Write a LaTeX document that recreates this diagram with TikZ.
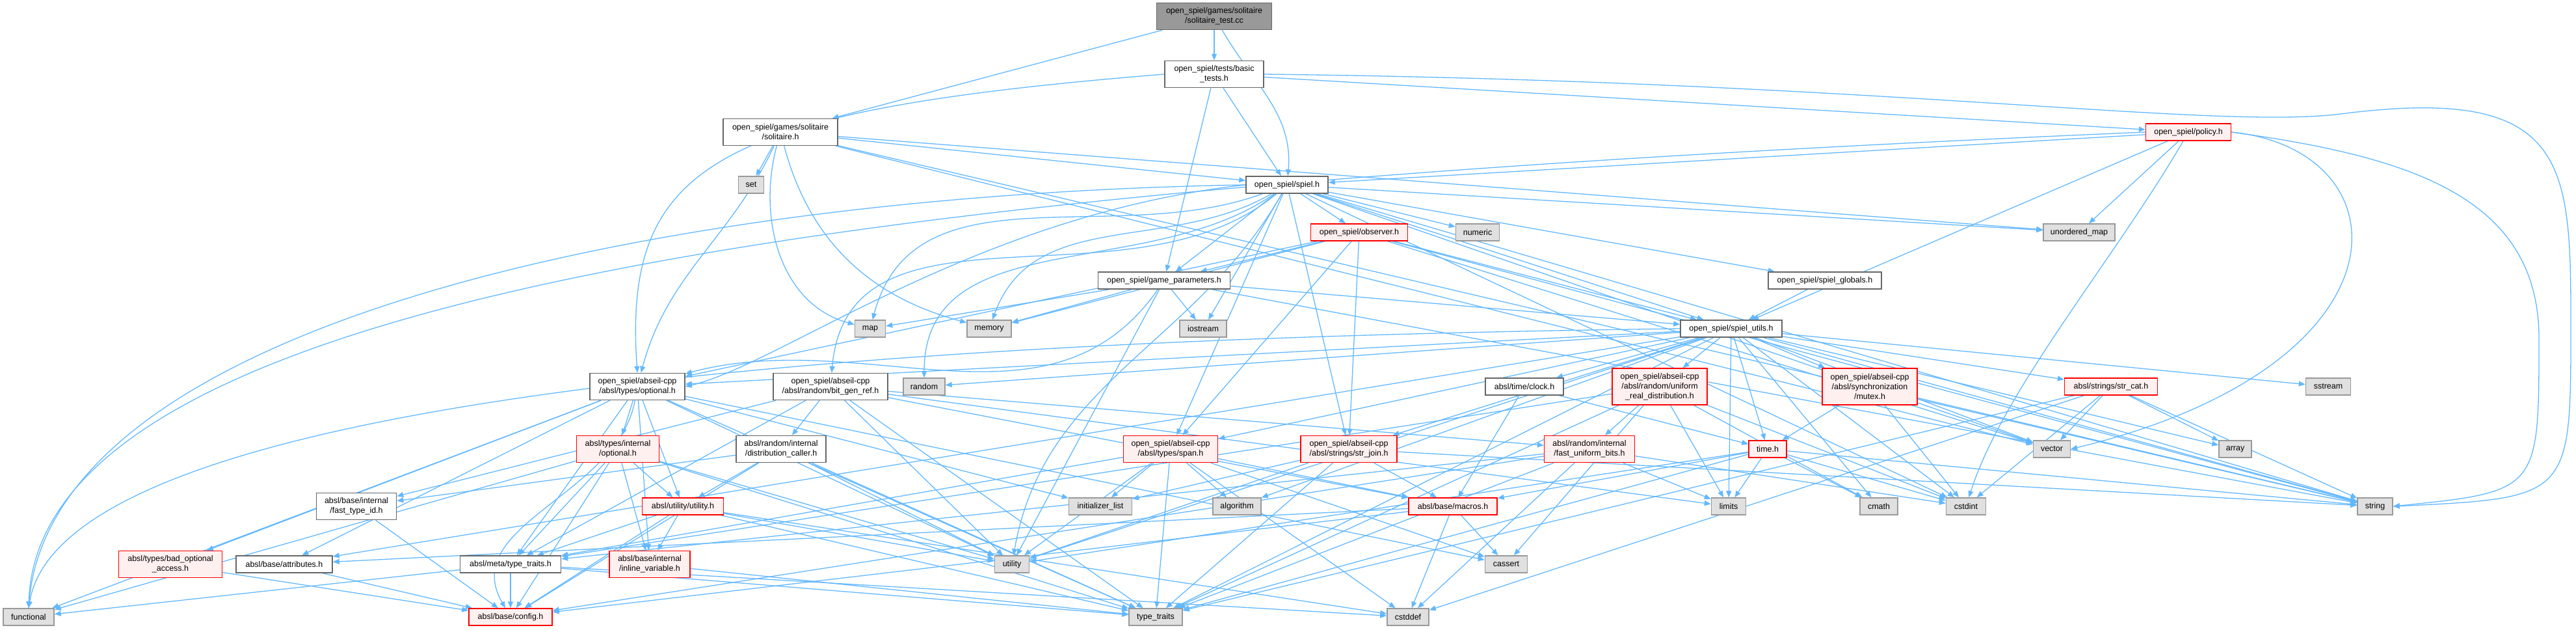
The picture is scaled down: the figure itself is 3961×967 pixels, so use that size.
\documentclass[tikz,border=0pt]{standalone}
\usepackage{fontspec}
\setmainfont{Liberation Sans}
\usetikzlibrary{arrows.meta, positioning}

\definecolor{edgeblue}{HTML}{63B8FF}
\definecolor{sysfill}{HTML}{E0E0E0}
\definecolor{sysborder}{HTML}{999999}
\definecolor{fileborder}{HTML}{666666}
\definecolor{truncfill}{HTML}{FFF0F0}
\definecolor{rootgray}{HTML}{999999}

\pgfdeclarelayer{edges}
\pgfsetlayers{edges,main}

\begin{document}
\begin{tikzpicture}[
    x=1pt, y=-1pt,
    every node/.style={rectangle, line width=1.5, align=center, inner sep=1, font=\fontsize{12.5}{15}\selectfont},
    rootfile/.style={draw=fileborder, fill=rootgray},
    file/.style={draw=fileborder, fill=white},
    trunc/.style={draw=red, fill=truncfill},
    sys/.style={draw=sysborder, fill=sysfill},
    dep/.style={draw=edgeblue, line width=1.3, -{Triangle[length=10pt,width=8pt]}}
  ]
  \useasboundingbox (0,0) rectangle (3961,967);

  % files of the project
  \node[rootfile, minimum width=177, minimum height=41] (test) at (1867,25) {open\_spiel/games/solitaire\\/solitaire\_test.cc};
  \node[file, minimum width=152, minimum height=41] (basic) at (1867,114) {open\_spiel/tests/basic\\\_tests.h};
  \node[file, minimum width=176, minimum height=41] (solh) at (1200,203) {open\_spiel/games/solitaire\\/solitaire.h};
  \node[trunc, minimum width=131, minimum height=26] (policy) at (3365,203) {open\_spiel/policy.h};
  \node[sys, minimum width=39, minimum height=26] (set) at (1155,284) {set};
  \node[file, minimum width=126, minimum height=26] (spiel) at (1979,284) {open\_spiel/spiel.h};
  \node[trunc, minimum width=149, minimum height=26] (observer) at (2090,357) {open\_spiel/observer.h};
  \node[sys, minimum width=67, minimum height=26] (numeric) at (2272,357) {numeric};
  \node[sys, minimum width=110, minimum height=26] (umap) at (3197,357) {unordered\_map};
  \node[file, minimum width=203, minimum height=26] (gparams) at (1790,431) {open\_spiel/game\_parameters.h};
  \node[file, minimum width=174, minimum height=26] (globals) at (2806,431) {open\_spiel/spiel\_globals.h};
  \node[file, minimum width=156, minimum height=26] (utils) at (2662,505) {open\_spiel/spiel\_utils.h};
  \node[sys, minimum width=47, minimum height=26] (map) at (1338,505) {map};
  \node[sys, minimum width=68, minimum height=26] (memory) at (1521,505) {memory};
  \node[sys, minimum width=72, minimum height=26] (iostream) at (1850,505) {iostream};

  % abseil and std headers
  \node[file, minimum width=146, minimum height=41] (optional) at (980,594) {open\_spiel/abseil-cpp\\/absl/types/optional.h};
  \node[file, minimum width=176, minimum height=41] (bitgen) at (1277,594) {open\_spiel/abseil-cpp\\/absl/random/bit\_gen\_ref.h};
  \node[sys, minimum width=64, minimum height=26] (random) at (1421,594) {random};
  \node[file, minimum width=120, minimum height=26] (clock) at (2344,594) {absl/time/clock.h};
  \node[trunc, minimum width=146, minimum height=56] (uniform) at (2552,594) {open\_spiel/abseil-cpp\\/absl/random/uniform\\\_real\_distribution.h};
  \node[trunc, minimum width=146, minimum height=56] (mutex) at (2875,594) {open\_spiel/abseil-cpp\\/absl/synchronization\\/mutex.h};
  \node[trunc, minimum width=143, minimum height=26] (strcat) at (3246,594) {absl/strings/str\_cat.h};
  \node[sys, minimum width=69, minimum height=26] (sstream) at (3580,594) {sstream};
  \node[trunc, minimum width=127, minimum height=41] (intopt) at (950,690) {absl/types/internal\\/optional.h};
  \node[file, minimum width=138, minimum height=41] (distcaller) at (1201,690) {absl/random/internal\\/distribution\_caller.h};
  \node[trunc, minimum width=145, minimum height=41] (span) at (1800,690) {open\_spiel/abseil-cpp\\/absl/types/span.h};
  \node[trunc, minimum width=148, minimum height=41] (strjoin) at (2074,690) {open\_spiel/abseil-cpp\\/absl/strings/str\_join.h};
  \node[trunc, minimum width=139, minimum height=41] (fastbits) at (2444,690) {absl/random/internal\\/fast\_uniform\_bits.h};
  \node[trunc, minimum width=58, minimum height=26] (timeh) at (2718,690) {time.h};
  \node[sys, minimum width=57, minimum height=26] (vector) at (3155,690) {vector};
  \node[sys, minimum width=50, minimum height=26] (array) at (3437,690) {array};
  \node[file, minimum width=123, minimum height=41] (fasttype) at (548,778) {absl/base/internal\\/fast\_type\_id.h};
  \node[trunc, minimum width=125, minimum height=26] (utilityh) at (1050,778) {absl/utility/utility.h};
  \node[sys, minimum width=97, minimum height=26] (initlist) at (1692,778) {initializer\_list};
  \node[sys, minimum width=74, minimum height=26] (algorithm) at (1902,778) {algorithm};
  \node[trunc, minimum width=136, minimum height=26] (macros) at (2234,778) {absl/base/macros.h};
  \node[sys, minimum width=53, minimum height=26] (limits) at (2658,778) {limits};
  \node[sys, minimum width=58, minimum height=26] (cmath) at (2889,778) {cmath};
  \node[sys, minimum width=61, minimum height=26] (cstdint) at (3023,778) {cstdint};
  \node[sys, minimum width=54, minimum height=26] (string) at (3652,778) {string};
  \node[trunc, minimum width=159, minimum height=41] (badopt) at (262,867) {absl/types/bad\_optional\\\_access.h};
  \node[file, minimum width=148, minimum height=26] (attributes) at (437,867) {absl/base/attributes.h};
  \node[file, minimum width=155, minimum height=26] (metatt) at (785,867) {absl/meta/type\_traits.h};
  \node[trunc, minimum width=124, minimum height=41] (inlinevar) at (999,867) {absl/base/internal\\/inline\_variable.h};
  \node[sys, minimum width=53, minimum height=26] (utility) at (1556,867) {utility};
  \node[sys, minimum width=65, minimum height=26] (cassert) at (2316,867) {cassert};
  \node[sys, minimum width=78, minimum height=26] (functional) at (44,948) {functional};
  \node[trunc, minimum width=128, minimum height=26] (config) at (785,948) {absl/base/config.h};
  \node[sys, minimum width=82, minimum height=26] (typetraits) at (1777,948) {type\_traits};
  \node[sys, minimum width=64, minimum height=26] (cstddef) at (2165,948) {cstddef};

  \begin{pgfonlayer}{edges}
    % solitaire_test.cc
    \draw[dep] (test) -- (solh);
    \draw[dep] (test) -- (basic);
    \draw[dep] (test) to[out=-60,in=85] (spiel);
    % basic_tests.h
    \draw[dep] (basic) -- (spiel);
    \draw[dep] (basic) -- (gparams);
    \draw[dep] (basic) -- (policy);
    \draw[dep] (basic.west) .. controls (1100,170) and (958,250) .. (optional.north);
    \draw[dep] (basic.east) .. controls (2900,125) and (3400,200) .. (3600,175) .. controls (3950,130) and (3953,250) .. (3953,500) .. controls (3953,765) .. (string.east);
    % solitaire.h
    \draw[dep] (solh) -- (set);
    \draw[dep] (solh) -- (spiel);
    \draw[dep] (solh) to[out=245,in=75] (optional);
    \draw[dep] (solh) to[out=255,in=165] (map);
    \draw[dep] (solh) to[out=285,in=165] (memory);
    \draw[dep] (solh) -- (umap);
    \draw[dep] (solh) -- (vector);
    \draw[dep] (solh) -- (string);
    % policy.h
    \draw[dep] (policy) -- (spiel);
    \draw[dep] (policy.west) .. controls (1500,280) and (60,420) .. (functional.north);
    \draw[dep] (policy) -- (utils);
    \draw[dep] (policy) -- (umap);
    \draw[dep] (policy) .. controls (3250,400) and (3080,600) .. (cstdint);
    \draw[dep] (policy.east) .. controls (3700,230) and (3720,560) .. (vector.east);
    \draw[dep] (policy.east) .. controls (3700,240) and (3904,300) .. (3904,520) .. controls (3904,755) .. (string.east);
    % spiel.h
    \draw[dep] (spiel) -- (observer);
    \draw[dep] (spiel) -- (numeric);
    \draw[dep] (spiel) -- (gparams);
    \draw[dep] (spiel) -- (globals);
    \draw[dep] (spiel) -- (utils);
    \draw[dep] (spiel) -- (umap);
    \draw[dep] (spiel) to[out=200,in=75] (map);
    \draw[dep] (spiel) to[out=210,in=70] (memory);
    \draw[dep] (spiel) -- (iostream);
    \draw[dep] (spiel) to[out=215,in=90] (random);
    \draw[dep] (spiel.west) .. controls (1500,330) and (1200,560) .. (optional.east);
    \draw[dep] (spiel) to[out=220,in=85] (bitgen);
    \draw[dep] (spiel) -- (span);
    \draw[dep] (spiel) -- (strjoin);
    \draw[dep] (spiel) -- (vector);
    \draw[dep] (spiel) -- (string);
    \draw[dep] (spiel) -- (cstdint);
    \draw[dep] (spiel) to[out=240,in=80] (utility);
    \draw[dep] (spiel.west) .. controls (1000,300) and (80,500) .. (functional.north);
    % observer.h
    \draw[dep] (observer) -- (gparams);
    \draw[dep] (observer) -- (memory);
    \draw[dep] (observer) -- (utils);
    \draw[dep] (observer) -- (strjoin);
    \draw[dep] (observer) -- (span);
    \draw[dep] (observer) -- (optional);
    \draw[dep] (observer) -- (vector);
    \draw[dep] (observer) -- (string);
    % game_parameters.h
    \draw[dep] (gparams) -- (map);
    \draw[dep] (gparams) -- (memory);
    \draw[dep] (gparams) -- (iostream);
    \draw[dep] (gparams) -- (utils);
    \draw[dep] (gparams) to[out=235,in=15] (optional);
    \draw[dep] (gparams) -- (utility);
    \draw[dep] (gparams) -- (string);
    % spiel_globals.h
    \draw[dep] (globals) -- (utils);
    % spiel_utils.h
    \draw[dep] (utils) -- (optional);
    \draw[dep] (utils) -- (random);
    \draw[dep] (utils) -- (attributes);
    \draw[dep] (utils.west) .. controls (1400,520) and (100,600) .. (functional.north);
    \draw[dep] (utils) -- (span);
    \draw[dep] (utils) -- (strjoin);
    \draw[dep] (utils) -- (clock);
    \draw[dep] (utils) -- (uniform);
    \draw[dep] (utils) -- (mutex);
    \draw[dep] (utils) -- (strcat);
    \draw[dep] (utils) -- (timeh);
    \draw[dep] (utils) -- (limits);
    \draw[dep] (utils) -- (cmath);
    \draw[dep] (utils) -- (cstdint);
    \draw[dep] (utils) -- (vector);
    \draw[dep] (utils) -- (array);
    \draw[dep] (utils) -- (string);
    \draw[dep] (utils) -- (sstream);
    \draw[dep] (utils) -- (utility);
    \draw[dep] (utils) -- (typetraits);
    \draw[dep] (utils) -- (algorithm);
    % absl/types/optional.h
    \draw[dep] (optional) -- (functional);
    \draw[dep] (optional) -- (badopt);
    \draw[dep] (optional) -- (attributes);
    \draw[dep] (optional) -- (metatt);
    \draw[dep] (optional) -- (inlinevar);
    \draw[dep] (optional) to[out=260,in=120] (config);
    \draw[dep] (optional) -- (utilityh);
    \draw[dep] (optional) -- (intopt);
    \draw[dep] (optional) -- (initlist);
    \draw[dep] (optional) -- (typetraits);
    \draw[dep] (optional) -- (utility);
    \draw[dep] (optional) -- (cassert);
    % absl/types/internal/optional.h
    \draw[dep] (intopt) -- (functional);
    \draw[dep] (intopt) -- (metatt);
    \draw[dep] (intopt) -- (inlinevar);
    \draw[dep] (intopt) -- (utilityh);
    \draw[dep] (intopt) -- (typetraits);
    \draw[dep] (intopt) -- (utility);
    \draw[dep] (intopt) -- (config);
    % bit_gen_ref.h
    \draw[dep] (bitgen) -- (distcaller);
    \draw[dep] (bitgen) -- (fasttype);
    \draw[dep] (bitgen) -- (fastbits);
    \draw[dep] (bitgen) -- (macros);
    \draw[dep] (bitgen) -- (metatt);
    \draw[dep] (bitgen) -- (limits);
    \draw[dep] (bitgen) -- (typetraits);
    \draw[dep] (bitgen) -- (utility);
    % distribution_caller.h
    \draw[dep] (distcaller) -- (utilityh);
    \draw[dep] (distcaller) -- (fasttype);
    \draw[dep] (distcaller) -- (config);
    \draw[dep] (distcaller) -- (typetraits);
    \draw[dep] (distcaller) -- (utility);
    % span.h
    \draw[dep] (span) -- (algorithm);
    \draw[dep] (span) -- (initlist);
    \draw[dep] (span) -- (utility);
    \draw[dep] (span) -- (typetraits);
    \draw[dep] (span) -- (cassert);
    \draw[dep] (span) -- (cstddef);
    \draw[dep] (span) -- (macros);
    \draw[dep] (span) -- (metatt);
    % str_join.h
    \draw[dep] (strjoin) -- (macros);
    \draw[dep] (strjoin) -- (initlist);
    \draw[dep] (strjoin) -- (string);
    \draw[dep] (strjoin) -- (utility);
    \draw[dep] (strjoin) -- (typetraits);
    % fast_uniform_bits.h
    \draw[dep] (fastbits) -- (limits);
    \draw[dep] (fastbits) -- (cstdint);
    \draw[dep] (fastbits) -- (cstddef);
    \draw[dep] (fastbits) -- (typetraits);
    \draw[dep] (fastbits) -- (config);
    \draw[dep] (fastbits) -- (metatt);
    % uniform_real_distribution.h
    \draw[dep] (uniform) -- (fastbits);
    \draw[dep] (uniform) -- (limits);
    \draw[dep] (uniform) -- (cmath);
    \draw[dep] (uniform) -- (cstdint);
    \draw[dep] (uniform) -- (typetraits);
    \draw[dep] (uniform) -- (metatt);
    \draw[dep] (uniform) -- (cassert);
    % mutex.h
    \draw[dep] (mutex) -- (timeh);
    \draw[dep] (mutex) -- (cstdint);
    \draw[dep] (mutex) -- (string);
    % clock.h and time.h
    \draw[dep] (clock) -- (macros);
    \draw[dep] (clock) -- (timeh);
    \draw[dep] (timeh) -- (macros);
    \draw[dep] (timeh) -- (limits);
    \draw[dep] (timeh) -- (cmath);
    \draw[dep] (timeh) -- (cstdint);
    \draw[dep] (timeh) -- (string);
    \draw[dep] (timeh) -- (typetraits);
    \draw[dep] (timeh) -- (utility);
    % str_cat.h
    \draw[dep] (strcat) -- (array);
    \draw[dep] (strcat) -- (cstdint);
    \draw[dep] (strcat) -- (string);
    \draw[dep] (strcat) -- (vector);
    \draw[dep] (strcat) -- (typetraits);
    \draw[dep] (strcat) -- (cstddef);
    % macros.h
    \draw[dep] (macros) -- (cassert);
    \draw[dep] (macros) -- (cstddef);
    \draw[dep] (macros) -- (attributes);
    \draw[dep] (macros) -- (config);
    % utility.h
    \draw[dep] (utilityh) -- (inlinevar);
    \draw[dep] (utilityh) -- (metatt);
    \draw[dep] (utilityh) -- (utility);
    \draw[dep] (utilityh) -- (typetraits);
    \draw[dep] (utilityh) -- (cstddef);
    \draw[dep] (utilityh) -- (config);
    % the small base headers
    \draw[dep] (inlinevar) -- (typetraits);
    \draw[dep] (metatt) -- (functional);
    \draw[dep] (metatt) -- (config);
    \draw[dep] (metatt) -- (typetraits);
    \draw[dep] (metatt) -- (cstddef);
    \draw[dep] (attributes) -- (config);
    \draw[dep] (badopt) -- (config);
    \draw[dep] (fasttype) -- (config);
  \end{pgfonlayer}
\end{tikzpicture}
\end{document}
